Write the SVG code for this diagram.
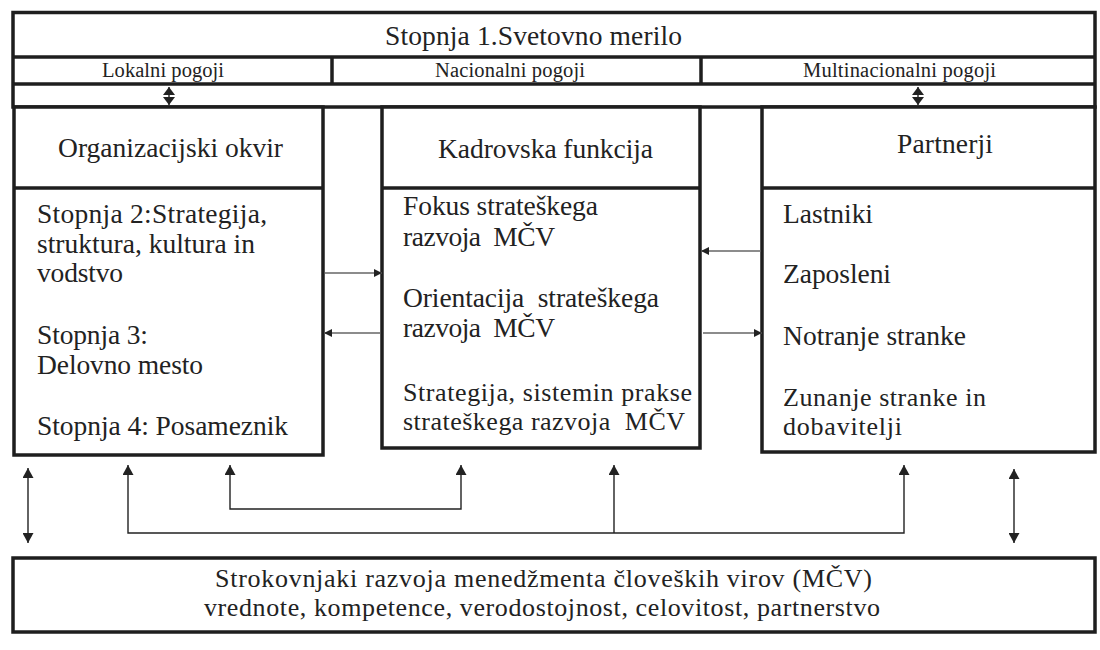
<svg xmlns="http://www.w3.org/2000/svg" width="1100" height="650" viewBox="0 0 1100 650">
  <style>
    .frame { fill: #ffffff; stroke: #1e1e1e; stroke-width: 3.5; }
    .rule { stroke: #1e1e1e; stroke-width: 3.5; fill: none; }
    .t { fill: #222222; }
    .big { font-size: 27.5px; }
    .mid { font-size: 26px; }
    .small { font-size: 20.5px; }
    .link { stroke: #666666; stroke-width: 1.3; fill: none; }
    .feed { stroke: #222222; stroke-width: 1.4; fill: none; }
  </style>
  <defs>
    <marker id="headSmall" markerUnits="userSpaceOnUse" viewBox="0 0 8 8" refX="8" refY="4" markerWidth="8" markerHeight="8" orient="auto-start-reverse">
      <path d="M0,0 L8,4 L0,8 z" fill="#222222"/>
    </marker>
    <marker id="headLarge" markerUnits="userSpaceOnUse" viewBox="0 0 10 11" refX="10" refY="5.5" markerWidth="10" markerHeight="11" orient="auto-start-reverse">
      <path d="M0,0 L10,5.5 L0,11 z" fill="#222222"/>
    </marker>
    <marker id="headTop" markerUnits="userSpaceOnUse" viewBox="0 0 8 12" refX="8" refY="6" markerWidth="8" markerHeight="12" orient="auto-start-reverse">
      <path d="M0,0 L8,6 L0,12 z" fill="#222222"/>
    </marker>
  </defs>

  <g font-family="'Liberation Serif', 'Times New Roman', serif">
  <!-- Level 1: global frame with three condition columns -->
  <g id="level1">
    <rect class="frame" x="13" y="12.5" width="1082" height="94.5"/>
    <line class="rule" x1="13" y1="57" x2="1095" y2="57"/>
    <line class="rule" x1="13" y1="84" x2="1095" y2="84"/>
    <line class="rule" x1="332" y1="57" x2="332" y2="84"/>
    <line class="rule" x1="701" y1="57" x2="701" y2="84"/>
    <text class="t big" x="385" y="45" textLength="297">Stopnja 1.Svetovno merilo</text>
    <text class="t small" x="102" y="77" textLength="122">Lokalni pogoji</text>
    <text class="t small" x="435" y="77" textLength="150">Nacionalni pogoji</text>
    <text class="t small" x="803" y="77" textLength="193">Multinacionalni pogoji</text>
  </g>

  <!-- Organisational frame -->
  <g id="organizacijski-okvir">
    <rect class="frame" x="14" y="107" width="309" height="348"/>
    <line class="rule" x1="14" y1="188" x2="323" y2="188"/>
    <text class="t big" x="58" y="157" textLength="225">Organizacijski okvir</text>
    <text class="t big" x="37" y="223" textLength="230">Stopnja 2:Strategija,</text>
    <text class="t big" x="37" y="253" textLength="218">struktura, kultura in</text>
    <text class="t big" x="37" y="282" textLength="86">vodstvo</text>
    <text class="t big" x="37" y="344" textLength="111">Stopnja 3:</text>
    <text class="t big" x="37" y="374" textLength="166">Delovno mesto</text>
    <text class="t big" x="37" y="435" textLength="251">Stopnja 4: Posameznik</text>
  </g>

  <!-- HR function -->
  <g id="kadrovska-funkcija">
    <rect class="frame" x="382" y="107" width="318" height="341"/>
    <line class="rule" x1="382" y1="188" x2="700" y2="188"/>
    <text class="t big" x="438" y="158" textLength="215">Kadrovska funkcija</text>
    <text class="t big" x="403" y="215" textLength="195">Fokus strateškega</text>
    <text class="t big" x="403" y="246" textLength="152" xml:space="preserve">razvoja  MČV</text>
    <text class="t big" x="403" y="307" textLength="256" xml:space="preserve">Orientacija  strateškega</text>
    <text class="t big" x="403" y="337" textLength="152" xml:space="preserve">razvoja  MČV</text>
    <text class="t mid" x="403" y="401" textLength="289">Strategija, sistemin prakse</text>
    <text class="t mid" x="403" y="430" textLength="282" xml:space="preserve">strateškega razvoja  MČV</text>
  </g>

  <!-- Partners -->
  <g id="partnerji">
    <rect class="frame" x="762" y="107" width="333" height="345"/>
    <line class="rule" x1="762" y1="188" x2="1095" y2="188"/>
    <text class="t big" x="897" y="153" textLength="96">Partnerji</text>
    <text class="t big" x="783" y="223" textLength="90">Lastniki</text>
    <text class="t big" x="783" y="283" textLength="108">Zaposleni</text>
    <text class="t big" x="783" y="345" textLength="183">Notranje stranke</text>
    <text class="t mid" x="783" y="406" textLength="203">Zunanje stranke in</text>
    <text class="t mid" x="783" y="435" textLength="119">dobavitelji</text>
  </g>

  <!-- HRM development professionals -->
  <g id="strokovnjaki">
    <rect class="frame" x="13" y="558" width="1082" height="74"/>
    <text class="t mid" x="215" y="586.5" textLength="657">Strokovnjaki razvoja menedžmenta človeških virov (MČV)</text>
    <text class="t mid" x="204" y="615.5" textLength="676">vrednote, kompetence, verodostojnost, celovitost, partnerstvo</text>
  </g>
  </g>

  <!-- Connectors -->
  <g id="connectors">
    <!-- links in the condition band -->
    <line class="feed" x1="169" y1="87" x2="169" y2="105" marker-start="url(#headTop)" marker-end="url(#headTop)"/>
    <line class="feed" x1="918" y1="87" x2="918" y2="105" marker-start="url(#headTop)" marker-end="url(#headTop)"/>

    <!-- links between the three columns -->
    <line class="link" x1="325" y1="273" x2="382" y2="273" marker-end="url(#headSmall)"/>
    <line class="link" x1="380" y1="333" x2="324" y2="333" marker-end="url(#headSmall)"/>
    <line class="link" x1="761" y1="251" x2="701" y2="251" marker-end="url(#headSmall)"/>
    <line class="link" x1="703" y1="333" x2="762" y2="333" marker-end="url(#headSmall)"/>

    <!-- feedback from the professionals -->
    <line class="feed" x1="28" y1="468" x2="28" y2="543" marker-start="url(#headLarge)" marker-end="url(#headLarge)"/>
    <line class="feed" x1="1014" y1="469" x2="1014" y2="543" marker-start="url(#headLarge)" marker-end="url(#headLarge)"/>
    <path class="feed" d="M128,465 V533 H904 V465" marker-start="url(#headLarge)" marker-end="url(#headLarge)"/>
    <line class="feed" x1="614" y1="533" x2="614" y2="465" marker-end="url(#headLarge)"/>
    <path class="feed" d="M230,465 V509 H461 V465" marker-start="url(#headLarge)" marker-end="url(#headLarge)"/>
  </g>
</svg>
